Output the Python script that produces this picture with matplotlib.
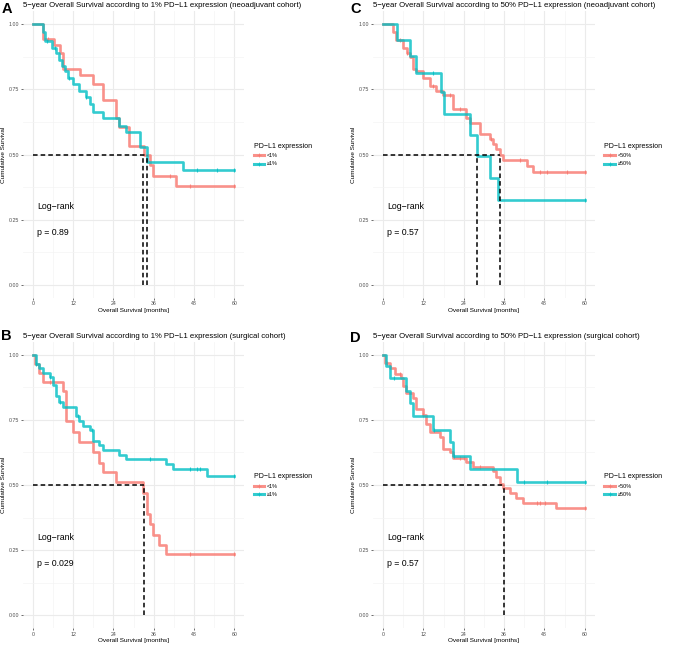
"""
Kaplan-Meier 4-panel figure (PD-L1 expression, neoadjuvant / surgical cohorts)
"""

import numpy as np
import matplotlib
matplotlib.use('Agg')
import matplotlib.pyplot as plt
from matplotlib.lines import Line2D

plt.rcParams['font.family'] = ['Liberation Sans', 'DejaVu Sans']

RED = '#F8766D'
TEAL = '#00BFC4'

# ---- panel A: 1% cut-off, neoadjuvant cohort ----
a_lo_t = [0, 3.0, 6.2, 8.1, 8.9, 14.1, 17.9, 20.8, 24.8, 25.8, 28.8, 33.0, 34.9, 35.7, 42.7]
a_lo_s = [1.0, 0.945, 0.92, 0.89, 0.83, 0.805, 0.77, 0.71, 0.64, 0.605, 0.535, 0.50, 0.46, 0.42, 0.38]
a_lo_c = [4.5, 40.9, 46.8, 60]
a_hi_t = [0, 3.0, 3.7, 5.6, 6.9, 7.9, 8.7, 9.7, 10.6, 11.9, 13.9, 15.9, 16.9, 17.9, 20.8, 25.8, 27.9, 31.9, 33.9, 44.8]
a_hi_s = [1.0, 0.97, 0.935, 0.91, 0.89, 0.865, 0.84, 0.82, 0.795, 0.77, 0.745, 0.72, 0.695, 0.665, 0.64, 0.61, 0.585, 0.53, 0.47, 0.44]
a_hi_c = [4.2, 6.6, 10.9, 15.9, 48.8, 54.8, 60]
a_med = [32.9, 33.9]
a_p = 'p = 0.89'

# ---- panel B: 1% cut-off, surgical cohort ----
b_lo_t = [0, 0.7, 2.0, 3.0, 8.9, 9.9, 11.9, 13.9, 17.9, 19.8, 20.8, 24.8, 32.9, 33.9, 34.9, 35.7, 37.7, 39.7]
b_lo_s = [1.0, 0.965, 0.93, 0.895, 0.86, 0.745, 0.705, 0.665, 0.625, 0.585, 0.55, 0.51, 0.47, 0.39, 0.35, 0.31, 0.27, 0.235]
b_lo_c = [5.0, 46.8, 60]
b_hi_t = [0, 1.0, 2.0, 3.0, 5.0, 6.0, 6.9, 7.9, 8.9, 12.9, 13.9, 14.9, 16.9, 17.9, 19.8, 20.8, 25.8, 27.8, 39.7, 41.7, 51.8]
b_hi_s = [1.0, 0.965, 0.95, 0.93, 0.915, 0.885, 0.84, 0.82, 0.80, 0.765, 0.745, 0.725, 0.71, 0.67, 0.655, 0.635, 0.615, 0.60, 0.58, 0.56, 0.535]
b_hi_c = [1.0, 5.0, 8.0, 13.6, 17.5, 34.9, 46.8, 48.8, 49.8, 60]
b_med = [33.1]
b_p = 'p = 0.029'

# ---- panel C: 50% cut-off, neoadjuvant cohort ----
c_lo_t = [0, 3.0, 4.0, 6.0, 7.0, 8.0, 8.9, 9.9, 11.9, 13.9, 15.9, 17.9, 20.8, 24.8, 25.8, 29.0, 31.9, 32.7, 33.7, 34.7, 35.7, 42.7, 44.6]
c_lo_s = [1.0, 0.97, 0.94, 0.91, 0.89, 0.875, 0.83, 0.82, 0.795, 0.765, 0.745, 0.73, 0.675, 0.64, 0.62, 0.58, 0.56, 0.54, 0.52, 0.50, 0.48, 0.455, 0.435]
c_lo_c = [5.0, 7.0, 14.9, 19.8, 22.8, 32.0, 40.7, 46.8, 48.8, 54.8, 60]
c_hi_t = [0, 4.2, 8.1, 9.9, 17.4, 18.0, 26.0, 28.0, 31.9, 34.2]
c_hi_s = [1.0, 0.94, 0.88, 0.815, 0.74, 0.655, 0.575, 0.495, 0.41, 0.325]
c_hi_c = [15.0, 60]
c_med = [28.0, 34.9]
c_p = 'p = 0.57'

# ---- panel D: 50% cut-off, surgical cohort ----
d_lo_t = [0, 0.5, 2.0, 3.5, 5.5, 6.0, 6.9, 8.9, 9.9, 11.9, 12.9, 13.9, 16.9, 17.9, 19.8, 20.8, 24.8, 26.8,
          32.7, 33.7, 34.7, 35.7, 37.7, 39.7, 41.7, 51.6]
d_lo_s = [1.0, 0.97, 0.95, 0.925, 0.91, 0.88, 0.855, 0.835, 0.79, 0.77, 0.735, 0.705, 0.685, 0.64, 0.625, 0.605,
          0.59, 0.57, 0.555, 0.53, 0.505, 0.49, 0.47, 0.45, 0.43, 0.41]
d_lo_c = [1.2, 5.1, 11.9, 23.0, 24.0, 29.0, 45.8, 46.8, 48.1, 60]
d_hi_t = [0, 1.0, 2.0, 6.9, 7.9, 8.9, 14.9, 20.0, 20.8, 26.0, 39.9]
d_hi_s = [1.0, 0.955, 0.91, 0.86, 0.815, 0.765, 0.71, 0.665, 0.61, 0.56, 0.51]
d_hi_c = [3.2, 15.1, 21.2, 41.9, 48.8, 60]
d_med = [35.9]
d_p = 'p = 0.57'

x_ticks = [0, 12, 24, 36, 48, 60]
y_ticks = [0.0, 0.25, 0.5, 0.75, 1.0]
y_tick_labels = ['0.00', '0.25', '0.50', '0.75', '1.00']


def surv_at(times, surv, t):
    # value of the step function at time t
    idx = np.searchsorted(times, t, side='right') - 1
    return np.array(surv)[idx]


def draw_curve(ax, times, surv, cens, color):
    t = list(times) + [60]
    s = list(surv) + [surv[-1]]
    ax.step(t, s, where='post', color=color, lw=1.9, alpha=0.8, zorder=3)
    ax.scatter(cens, surv_at(times, surv, cens), marker='|', s=12, color=color,
               linewidths=0.8, alpha=0.8, zorder=3)


def km_panel(rect, letter_xy, letter, title, lo, hi, medians, pval, labels):
    ax = fig.add_axes(rect)
    ax.set_xlim(-3, 63)
    ax.set_ylim(-0.05, 1.05)

    # ggplot minimal-theme grid
    ax.set_xticks(x_ticks)
    ax.set_xticks([6, 18, 30, 42, 54], minor=True)
    ax.set_yticks(y_ticks)
    ax.set_yticklabels(y_tick_labels)
    ax.set_yticks([0.125, 0.375, 0.625, 0.875], minor=True)
    ax.grid(which='major', color='#EBEBEB', lw=0.8)
    ax.grid(which='minor', color='#F4F4F4', lw=0.5)
    ax.set_axisbelow(True)
    for sp in ax.spines.values():
        sp.set_visible(False)
    ax.tick_params(which='major', length=1.5, width=0.5, color='#333333',
                   labelsize=3.8, labelcolor='#4D4D4D', pad=1)
    ax.tick_params(which='minor', length=0)

    draw_curve(ax, *lo, RED)
    draw_curve(ax, *hi, TEAL)

    # median survival lines
    ax.plot([0, max(medians)], [0.5, 0.5], color='black', ls=(0, (3, 2)), lw=1.1, zorder=4)
    for m in medians:
        ax.plot([m, m], [0, 0.5], color='black', ls=(0, (3, 2)), lw=1.1, zorder=4)

    ax.text(1.2, 0.30, 'Log\u2212rank', fontsize=6.3, va='center')
    ax.text(1.2, 0.20, pval, fontsize=6.3, va='center')

    ax.set_xlabel('Overall Survival [months]', fontsize=4.6, labelpad=1)
    ax.set_ylabel('Cumulative Survival', fontsize=4.6, labelpad=2)
    ax.set_title(title, loc='left', fontsize=5.6, pad=3)
    fig.text(letter_xy[0] / W, 1 - letter_xy[1] / H, letter, fontsize=10.5,
             fontweight='bold', va='center', ha='left')

    handles = [Line2D([], [], color=RED, lw=2.2, alpha=0.8, marker='+', ms=3, mew=0.6),
               Line2D([], [], color=TEAL, lw=2.2, alpha=0.8, marker='+', ms=3, mew=0.6)]
    leg = ax.legend(handles, labels, title='PD\u2212L1 expression', loc='center left',
                    bbox_to_anchor=(1.02, 0.5), frameon=False, fontsize=3.9,
                    title_fontsize=5.0, handlelength=2.0, handletextpad=0.5,
                    labelspacing=0.6)
    leg._legend_box.align = 'left'
    return ax


fig = plt.figure(figsize=(6.74, 6.45), dpi=100)
W, H = 674.0, 645.0


def rect(left, right, top, bottom):
    return [left / W, (H - bottom) / H, (right - left) / W, (bottom - top) / H]


km_panel(rect(22.7, 244.3, 11.3, 298.0), (1.5, 9), 'A',
         '5\u2212year Overall Survival according to 1% PD\u2212L1 expression (neoadjuvant cohort)',
         (a_lo_t, a_lo_s, a_lo_c), (a_hi_t, a_hi_s, a_hi_c), a_med, a_p, ['<1%', '\u22651%'])
km_panel(rect(22.7, 244.3, 341.7, 628.3), (1.5, 336), 'B',
         '5\u2212year Overall Survival according to 1% PD\u2212L1 expression (surgical cohort)',
         (b_lo_t, b_lo_s, b_lo_c), (b_hi_t, b_hi_s, b_hi_c), b_med, b_p, ['<1%', '\u22651%'])
km_panel(rect(372.9, 594.8, 11.3, 298.0), (350, 9), 'C',
         '5\u2212year Overall Survival according to 50% PD\u2212L1 expression (neoadjuvant cohort)',
         (c_lo_t, c_lo_s, c_lo_c), (c_hi_t, c_hi_s, c_hi_c), c_med, c_p, ['<50%', '\u226550%'])
km_panel(rect(372.9, 594.8, 341.7, 628.3), (350, 338), 'D',
         '5\u2212year Overall Survival according to 50% PD\u2212L1 expression (surgical cohort)',
         (d_lo_t, d_lo_s, d_lo_c), (d_hi_t, d_hi_s, d_hi_c), d_med, d_p, ['<50%', '\u226550%'])

fig.savefig('out.png', dpi=100)
